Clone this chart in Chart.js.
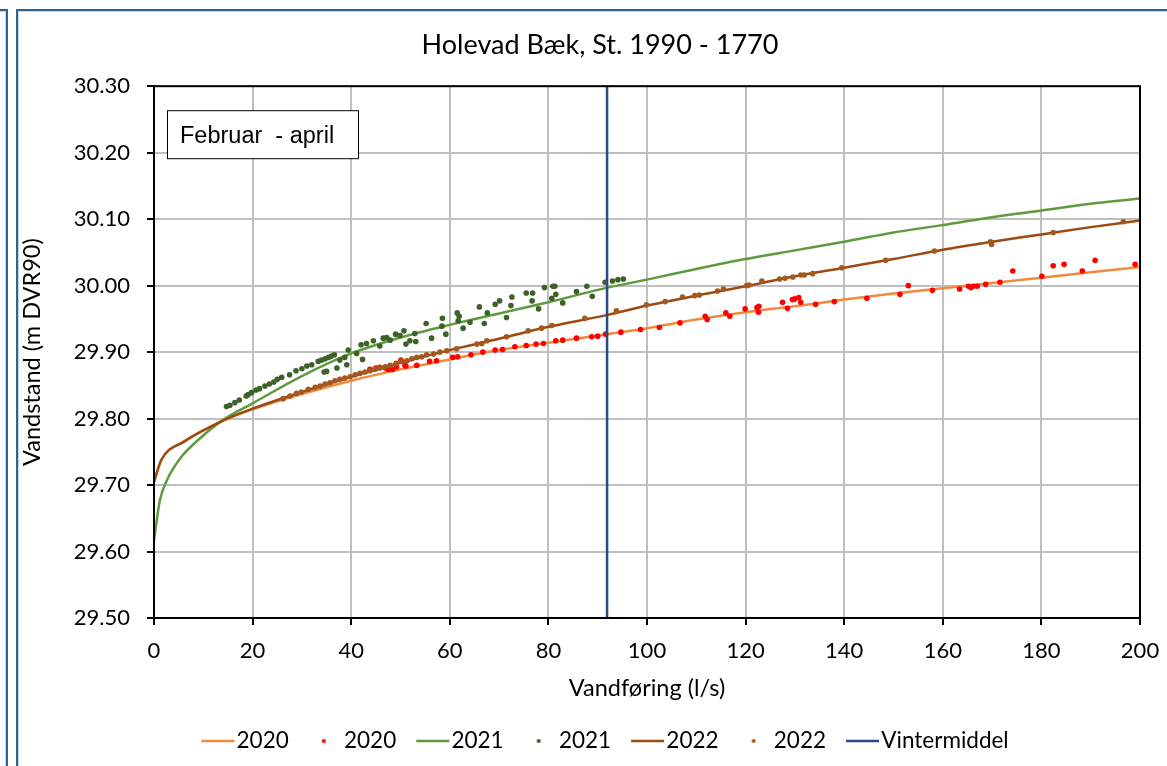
<!DOCTYPE html>
<html>
<head>
<meta charset="utf-8">
<script src="https://cdn.jsdelivr.net/npm/chart.js@4"></script>
<style>
  html, body { margin: 0; padding: 0; background: #fff; overflow: hidden; width: 1167px; height: 766px; }
  #frame { position: absolute; left: 16px; top: 9px; width: 1300px; height: 900px;
           border-left: 2px solid #2D6690; border-top: 2px solid #2D6690; box-shadow: inset 1px 1px 0 #D0D0D0; }
  #prev { position: absolute; left: -50px; top: 9px; width: 56px; height: 900px;
          border-right: 2px solid #2D6690; border-top: 2px solid #2D6690; box-shadow: inset -1px 1px 0 #D0D0D0; }
  #chart { position: absolute; left: 0; top: 0; }
</style>
</head>
<body>
<div id="prev"></div>
<div id="frame"></div>
<canvas id="chart" width="1200" height="766"></canvas>
<script>
// rating curves (Q in l/s, stage in m DVR90)
const q2020Line = [0, 1.5, 6, 14, 20, 30, 40, 50, 60, 70, 80, 92, 100, 110, 120, 130, 140, 150, 160, 170, 180, 190, 200];
const h2020Line = [29.705, 29.738, 29.765, 29.797, 29.814, 29.837, 29.857, 29.874, 29.889, 29.903, 29.914, 29.927, 29.936, 29.949, 29.960, 29.969, 29.979, 29.988, 29.996, 30.004, 30.012, 30.020, 30.028];

const q2021Line = [0, 1.2, 2.6, 5.3, 9.3, 14, 20, 30, 40, 50, 60, 70, 80, 92, 100, 110, 120, 130, 140, 150, 160, 170, 180, 190, 200];
const h2021Line = [29.617, 29.677, 29.707, 29.740, 29.770, 29.798, 29.823, 29.864, 29.898, 29.922, 29.941, 29.958, 29.975, 29.997, 30.009, 30.025, 30.040, 30.053, 30.066, 30.080, 30.091, 30.103, 30.113, 30.123, 30.131];

const q2022Line = [0, 1.5, 6, 14, 20, 30, 40, 50, 60, 70, 80, 92, 100, 110, 120, 130, 140, 150, 160, 170, 180, 190, 200];
const h2022Line = [29.705, 29.738, 29.765, 29.797, 29.815, 29.840, 29.863, 29.884, 29.903, 29.920, 29.938, 29.956, 29.970, 29.985, 29.999, 30.014, 30.027, 30.040, 30.054, 30.066, 30.077, 30.088, 30.098];

// measurements
const q2020Obs = [43.8, 45.0, 45.8, 46.9, 47.5, 48.4, 49.2, 50.1, 50.9, 51.1, 53.3, 55.9, 57.3,
  60.6, 61.6, 64.3, 66.7, 69.2, 70.7, 73.2, 75.5, 77.5, 79.0, 81.5, 82.9, 85.7, 88.8, 90.0, 91.6, 94.7, 98.7, 102.5, 106.7,
  111.8, 112.2, 116.0, 116.8, 119.9, 122.3, 122.7, 122.6, 127.5, 128.5, 129.5, 130.0, 130.8, 131.2, 134.2, 138.0, 144.6,
  151.3, 153.0, 157.9, 163.4, 165.2, 165.7, 166.2, 167.0, 168.7, 171.6, 174.2, 180.1, 182.4, 184.6, 188.3, 190.9, 199.0];
const h2020Obs = [29.874, 29.876, 29.877, 29.876, 29.874, 29.874, 29.878, 29.888, 29.880, 29.879, 29.880, 29.886, 29.887,
  29.892, 29.893, 29.896, 29.900, 29.903, 29.904, 29.908, 29.910, 29.912, 29.913, 29.917, 29.918, 29.921, 29.923, 29.924, 29.927, 29.930, 29.934, 29.937, 29.944,
  29.954, 29.949, 29.959, 29.954, 29.965, 29.967, 29.969, 29.960, 29.975, 29.966, 29.979, 29.980, 29.982, 29.975, 29.972, 29.976, 29.981,
  29.987, 30.000, 29.993, 29.995, 29.999, 29.997, 29.999, 29.999, 30.002, 30.005, 30.022, 30.014, 30.030, 30.032, 30.022, 30.038, 30.032];

const q2021Obs = [14.7, 15.4, 16.4, 17.3, 18.7, 19.1, 19.8, 20.7, 21.4, 22.5, 23.4, 24.3, 25.0, 25.9, 27.5, 28.8, 30.0, 31.0, 32.0,
  33.3, 34.0, 34.7, 35.4, 36.0, 36.6, 37.7, 38.7, 39.4, 39.1, 37.1, 35.0, 34.5, 41.1, 42.3, 42.0, 43.1, 44.5, 45.8, 46.5, 47.2,
  47.9, 49.0, 49.9, 50.7, 51.1, 51.9, 52.9, 53.1, 55.2, 56.3, 58.5, 58.4, 59.2,
  61.5, 61.9, 61.7, 62.7, 64.1, 66.0, 67.0, 67.6, 69.2, 70.1, 71.5, 72.4, 72.6, 75.5, 76.8, 76.7, 78.0, 79.2, 80.7, 80.9, 81.3,
  81.5, 82.9, 85.7, 87.8, 88.9, 91.5, 93.0, 94.1, 95.2];
const h2021Obs = [29.818, 29.820, 29.824, 29.828, 29.834, 29.836, 29.839, 29.843, 29.845, 29.849, 29.852, 29.855, 29.859, 29.862, 29.866, 29.872, 29.875, 29.879, 29.881,
  29.886, 29.888, 29.890, 29.892, 29.894, 29.896, 29.888, 29.892, 29.903, 29.881, 29.876, 29.871, 29.870, 29.898, 29.889, 29.911, 29.913, 29.917, 29.909, 29.921, 29.922,
  29.918, 29.927, 29.925, 29.932, 29.912, 29.917, 29.928, 29.916, 29.943, 29.921, 29.951, 29.939, 29.927,
  29.959, 29.954, 29.947, 29.936, 29.945, 29.968, 29.943, 29.959, 29.972, 29.977, 29.952, 29.970, 29.983, 29.989, 29.989, 29.977, 29.965, 29.997, 29.981, 29.999, 29.999,
  29.987, 29.974, 29.991, 29.999, 29.984, 30.005, 30.007, 30.009, 30.010];

const q2022Obs = [26.2, 27.6, 28.9, 29.9, 31.3, 32.7, 33.7, 34.7, 35.7, 36.7, 37.7, 38.7, 39.8, 40.8, 41.8, 42.8, 43.8, 44.8, 45.8,
  46.9, 47.9, 49.1, 50.2, 51.3, 52.3, 53.3, 54.3, 55.3, 56.7, 58.0, 59.4,
  61.4, 65.5, 66.5, 67.5, 71.5, 75.9, 78.6, 80.7, 87.4, 93.8, 99.9, 103.7,
  107.2, 109.7, 110.6, 114.3, 115.5, 120.2, 120.7, 123.3, 126.9, 128.0, 129.6, 131.2, 131.9, 133.6, 139.5, 148.4, 158.3,
  169.7, 169.9, 182.4, 196.6];
const h2022Obs = [29.830, 29.834, 29.838, 29.840, 29.844, 29.847, 29.849, 29.852, 29.854, 29.857, 29.859, 29.861, 29.863, 29.866, 29.868, 29.870, 29.872, 29.874, 29.876,
  29.878, 29.880, 29.883, 29.886, 29.887, 29.890, 29.892, 29.893, 29.896, 29.897, 29.900, 29.902,
  29.905, 29.912, 29.913, 29.917, 29.923, 29.932, 29.936, 29.940, 29.951, 29.962, 29.971, 29.976,
  29.983, 29.985, 29.986, 29.992, 29.995, 30.000, 30.001, 30.007, 30.010, 30.011, 30.013, 30.016, 30.016, 30.018, 30.027, 30.038, 30.052,
  30.066, 30.062, 30.080, 30.096];

// winter mean discharge
const vinterQ = [91.9, 91.9];
const vinterH = [29.5, 30.3];

const xTicks = { min: 0, max: 200, step: 20 };
const yTicks = { min: 29.5, max: 30.3, step: 0.1 };

const ORANGE = '#F28A3E', RED = '#FF0000', GREEN = '#5E9B3E', DKGREEN = '#3E6128', BROWN = '#9C4A12', BROWNDOT = '#A3591E', NAVY = '#2B4A86';

function pts(xs, ys) { return xs.map((x, i) => ({ x: x, y: ys[i] })); }

// legend symbols: short line or a single dot
function legendIcon(kind, color) {
  const c = document.createElement('canvas');
  c.width = 62; c.height = 8;
  const g = c.getContext('2d');
  if (kind === 'line') {
    g.strokeStyle = color; g.lineWidth = 2.5;
    g.beginPath(); g.moveTo(24, 4); g.lineTo(57, 4); g.stroke();
  } else {
    g.fillStyle = color;
    g.beginPath(); g.arc(39, 4, 2, 0, Math.PI * 2); g.fill();
  }
  return c;
}
const icons = [legendIcon('line', ORANGE), legendIcon('dot', RED), legendIcon('line', GREEN), legendIcon('dot', DKGREEN),
  legendIcon('line', BROWN), legendIcon('dot', BROWNDOT), legendIcon('line', NAVY)];

const periodBox = {
  id: 'periodBox',
  afterDraw(chart) {
    const { ctx, chartArea: a } = chart;
    ctx.save();
    ctx.lineWidth = 2;
    ctx.strokeStyle = '#000';
    ctx.strokeRect(a.left, a.top, a.right - a.left, a.bottom - a.top);
    const bx = a.left + 13.5, by = a.top + 24.5, bw = 191, bh = 48;
    ctx.fillStyle = '#fff';
    ctx.fillRect(bx, by, bw, bh);
    ctx.lineWidth = 1;
    ctx.strokeRect(bx, by, bw, bh);
    ctx.fillStyle = '#000';
    ctx.font = '23.5px "Liberation Sans", Arial, sans-serif';
    ctx.textBaseline = 'alphabetic';
    ctx.fillText('Februar  - april', bx + 12.5, by + 32);
    ctx.restore();
  }
};

Chart.defaults.font.family = 'Lato, "Open Sans", sans-serif';
Chart.defaults.font.size = 23.5;
Chart.defaults.color = '#000';

new Chart(document.getElementById('chart'), {
  type: 'scatter',
  data: {
    datasets: [
      { label: '2020', data: pts(q2020Line, h2020Line), showLine: true, borderColor: ORANGE, borderWidth: 2.5, pointRadius: 0, cubicInterpolationMode: 'monotone', order: 7 },
      { label: '2020', data: pts(q2020Obs, h2020Obs), backgroundColor: RED, borderColor: RED, borderWidth: 0, pointRadius: 2.8, order: 6 },
      { label: '2021', data: pts(q2021Line, h2021Line), showLine: true, borderColor: GREEN, borderWidth: 2.5, pointRadius: 0, cubicInterpolationMode: 'monotone', order: 5 },
      { label: '2021', data: pts(q2021Obs, h2021Obs), backgroundColor: DKGREEN, borderColor: DKGREEN, borderWidth: 0, pointRadius: 2.8, order: 4 },
      { label: '2022', data: pts(q2022Line, h2022Line), showLine: true, borderColor: BROWN, borderWidth: 2.5, pointRadius: 0, cubicInterpolationMode: 'monotone', order: 3 },
      { label: '2022', data: pts(q2022Obs, h2022Obs), backgroundColor: BROWNDOT, borderColor: BROWNDOT, borderWidth: 0, pointRadius: 2.8, order: 2 },
      { label: 'Vintermiddel', data: pts(vinterQ, vinterH), showLine: true, borderColor: NAVY, borderWidth: 2.5, pointRadius: 0, order: 1 }
    ]
  },
  options: {
    responsive: false,
    animation: false,
    layout: { padding: { left: 0, right: 0, top: 0, bottom: 3.75 } },
    scales: {
      x: {
        type: 'linear', min: xTicks.min, max: xTicks.max,
        ticks: { stepSize: xTicks.step, padding: 13, font: { size: 22 } },
        grid: { color: '#BFBFBF', lineWidth: 2, tickColor: '#000', tickLength: 7, tickWidth: 2 },
        border: { color: '#000', width: 2 },
        title: { display: true, text: 'Vandføring (l/s)', padding: { top: 0, bottom: 17.6 } },
        afterFit(s) { s.height = 101.75; }
      },
      y: {
        min: yTicks.min, max: yTicks.max,
        ticks: { stepSize: yTicks.step, padding: 17, font: { size: 22 }, callback: v => v.toFixed(2) },
        grid: { color: '#BFBFBF', lineWidth: 2, tickColor: '#000', tickLength: 7, tickWidth: 2 },
        border: { color: '#000', width: 2 },
        title: { display: true, text: 'Vandstand (m DVR90)', padding: { top: 18, bottom: 0 } },
        afterFit(s) { s.width = 154; }
      },
      // empty right margin so the title and legend centre on the page like the original
      yMargin: {
        axis: 'y', position: 'right', display: true,
        ticks: { display: false }, grid: { display: false }, border: { display: false },
        afterFit(s) { s.width = 60; }
      }
    },
    plugins: {
      title: { display: true, text: 'Holevad Bæk, St. 1990 - 1770', font: { size: 27, weight: 'normal' }, color: '#000', padding: { top: 28.8, bottom: 25 } },
      legend: {
        position: 'bottom',
        labels: {
          usePointStyle: true, pointStyleWidth: 34, padding: 10, font: { size: 22.5 },
          generateLabels(chart) {
            return Chart.defaults.plugins.legend.labels.generateLabels(chart).map(item => {
              item.pointStyle = icons[item.datasetIndex];
              return item;
            });
          },
          sort: (a, b) => a.datasetIndex - b.datasetIndex
        }
      },
      tooltip: { enabled: false }
    }
  },
  plugins: [periodBox]
});
</script>
</body>
</html>
